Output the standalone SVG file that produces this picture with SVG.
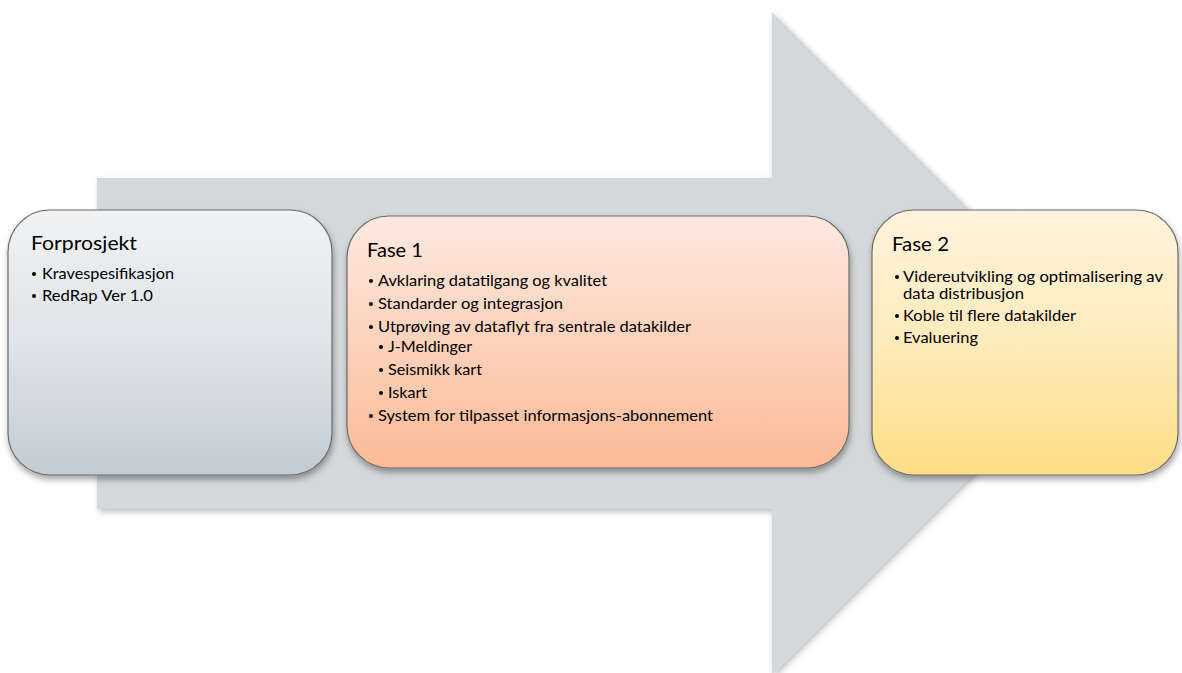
<svg xmlns="http://www.w3.org/2000/svg" width="1182" height="673" viewBox="0 0 1182 673">
  <defs>
    <linearGradient id="g1" x1="0" y1="0" x2="0" y2="1">
      <stop offset="0" stop-color="#f0f2f4"/>
      <stop offset="0.5" stop-color="#dfe4e8"/>
      <stop offset="1" stop-color="#c2ccd4"/>
    </linearGradient>
    <linearGradient id="g2" x1="0" y1="0" x2="0" y2="1">
      <stop offset="0" stop-color="#fde9e0"/>
      <stop offset="0.5" stop-color="#fcd2bb"/>
      <stop offset="1" stop-color="#fbba96"/>
    </linearGradient>
    <linearGradient id="g3" x1="0" y1="0" x2="0" y2="1">
      <stop offset="0" stop-color="#fff3dd"/>
      <stop offset="0.5" stop-color="#feebbb"/>
      <stop offset="1" stop-color="#fedd84"/>
    </linearGradient>
    <filter id="shadow" x="-10%" y="-10%" width="120%" height="130%">
      <feDropShadow dx="1" dy="4" stdDeviation="3" flood-color="#000" flood-opacity="0.35"/>
    </filter>
    <filter id="ashadow" x="-10%" y="-10%" width="120%" height="120%">
      <feDropShadow dx="2" dy="3" stdDeviation="3" flood-color="#000" flood-opacity="0.25"/>
    </filter>
  </defs>
  <style>
    .box { stroke: #6b6b6b; stroke-width: 1.2; filter: url(#shadow); }
    .title { font-family: Lato, "Liberation Sans", sans-serif; font-size: 20px; fill: #000; }
    .item { font-family: Lato, "Liberation Sans", sans-serif; font-size: 15px; fill: #000; }
    .bul { fill: #000; }
  </style>
  <rect width="1182" height="673" fill="#ffffff"/>

  <g id="connectors">
    <g id="arrow">
      <path d="M97,178 L772,178 L772,12 L1103.5,343.5 L772,675 L772,509 L97,509 Z" fill="#d4d8da" filter="url(#ashadow)"/>
    </g>
  </g>

  <g id="forprosjekt">
    <rect class="box" x="8" y="210" width="324" height="265" rx="42" ry="42" fill="url(#g1)"/>
    <text class="title" x="31" y="250" textLength="106" lengthAdjust="spacingAndGlyphs">Forprosjekt</text>
    <circle class="bul" cx="34" cy="274" r="2"/>
    <text class="item" x="42" y="279" textLength="132" lengthAdjust="spacingAndGlyphs">Kravespesifikasjon</text>
    <circle class="bul" cx="34" cy="296" r="2"/>
    <text class="item" x="42" y="301" textLength="111" lengthAdjust="spacingAndGlyphs">RedRap Ver 1.0</text>
  </g>

  <g id="fase1">
    <rect class="box" x="347" y="216" width="502" height="252" rx="42" ry="42" fill="url(#g2)"/>
    <text class="title" x="367" y="257" textLength="56" lengthAdjust="spacingAndGlyphs">Fase 1</text>
    <circle class="bul" cx="371" cy="281" r="2"/>
    <text class="item" x="378" y="286" textLength="229" lengthAdjust="spacingAndGlyphs">Avklaring datatilgang og kvalitet</text>
    <circle class="bul" cx="371" cy="304" r="2"/>
    <text class="item" x="378" y="309" textLength="185" lengthAdjust="spacingAndGlyphs">Standarder og integrasjon</text>
    <circle class="bul" cx="371" cy="327" r="2"/>
    <text class="item" x="378" y="332" textLength="313" lengthAdjust="spacingAndGlyphs">Utprøving av dataflyt fra sentrale datakilder</text>
    <circle class="bul" cx="381" cy="347" r="2"/>
    <text class="item" x="388" y="352" textLength="84" lengthAdjust="spacingAndGlyphs">J-Meldinger</text>
    <circle class="bul" cx="381" cy="370" r="2"/>
    <text class="item" x="388" y="375" textLength="94" lengthAdjust="spacingAndGlyphs">Seismikk kart</text>
    <circle class="bul" cx="381" cy="393" r="2"/>
    <text class="item" x="388" y="398" textLength="39" lengthAdjust="spacingAndGlyphs">Iskart</text>
    <circle class="bul" cx="371" cy="416" r="2"/>
    <text class="item" x="378" y="421" textLength="335" lengthAdjust="spacingAndGlyphs">System for tilpasset informasjons-abonnement</text>
  </g>

  <g id="fase2">
    <rect class="box" x="872" y="210" width="306" height="265" rx="42" ry="42" fill="url(#g3)"/>
    <text class="title" x="892" y="251" textLength="57" lengthAdjust="spacingAndGlyphs">Fase 2</text>
    <circle class="bul" cx="897" cy="277" r="2"/>
    <text class="item" x="903" y="282" textLength="260" lengthAdjust="spacingAndGlyphs">Videreutvikling og optimalisering av</text>
    <text class="item" x="903" y="299" textLength="121" lengthAdjust="spacingAndGlyphs">data distribusjon</text>
    <circle class="bul" cx="897" cy="316" r="2"/>
    <text class="item" x="903" y="321" textLength="173" lengthAdjust="spacingAndGlyphs">Koble til flere datakilder</text>
    <circle class="bul" cx="897" cy="338" r="2"/>
    <text class="item" x="903" y="343" textLength="75" lengthAdjust="spacingAndGlyphs">Evaluering</text>
  </g>
</svg>
